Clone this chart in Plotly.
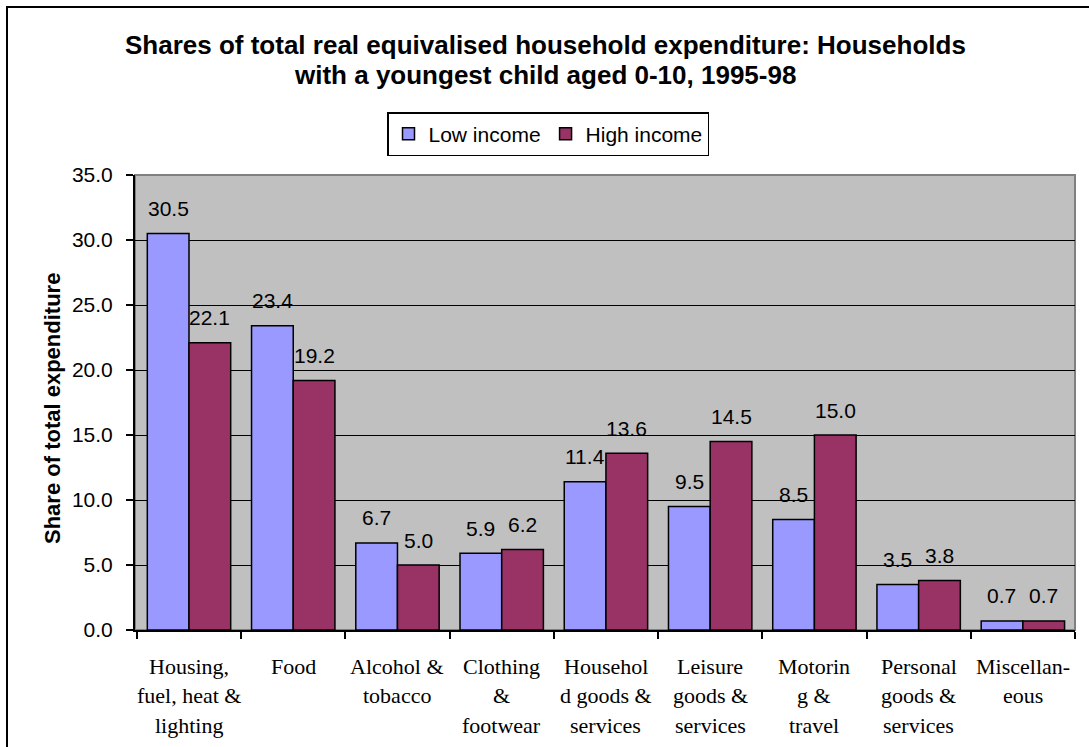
import plotly.graph_objects as go

# Expenditure categories (line breaks as printed under the axis)
categories = [
    "Housing,<br>fuel, heat &<br>lighting",
    "Food",
    "Alcohol &<br>tobacco",
    "Clothing<br>&<br>footwear",
    "Househol<br>d goods &<br>services",
    "Leisure<br>goods &<br>services",
    "Motorin<br>g &<br>travel",
    "Personal<br>goods &<br>services",
    "Miscellan-<br>eous",
]
low_income = [30.5, 23.4, 6.7, 5.9, 11.4, 9.5, 8.5, 3.5, 0.7]
high_income = [22.1, 19.2, 5.0, 6.2, 13.6, 14.5, 15.0, 3.8, 0.7]
y_ticks = [0.0, 5.0, 10.0, 15.0, 20.0, 25.0, 30.0, 35.0]

title_lines = [
    "Shares of total real equivalised household expenditure: Households",
    "with a youngest child aged 0-10, 1995-98",
]

W, H = 1089, 747
L, R, T, B = 135, 14, 175, 117
PW, PH = W - L - R, H - T - B

SANS = "Liberation Sans, Arial, sans-serif"
SERIF = "Liberation Serif, Times New Roman, serif"
LOW_COL = "#9999FF"
HIGH_COL = "#993366"

fig = go.Figure()
fig.add_trace(go.Bar(
    name="Low income", x=categories, y=low_income,
    marker=dict(color=LOW_COL, line=dict(color="black", width=1.5)),
))
fig.add_trace(go.Bar(
    name="High income", x=categories, y=high_income,
    marker=dict(color=HIGH_COL, line=dict(color="black", width=1.5)),
))

annotations = []
bargap = 0.2
half_bar = PW / len(categories) * (1 - bargap) / 4

# value labels above each bar
for cat, lo, hi in zip(categories, low_income, high_income):
    for val, dx in ((lo, -half_bar), (hi, half_bar)):
        annotations.append(dict(
            x=cat, y=val, xref="x", yref="y", text=f"{val:.1f}",
            showarrow=False, xshift=dx, yshift=25, yanchor="middle",
            font=dict(family=SANS, size=21, color="black"),
        ))

# category labels, one annotation per line for Excel-like spacing
for cat in categories:
    for i, line in enumerate(cat.split("<br>")):
        annotations.append(dict(
            x=cat, y=0, xref="x", yref="paper", text=line,
            showarrow=False, yshift=-(36 + 29.5 * i), yanchor="middle",
            font=dict(family=SERIF, size=22, color="black"),
        ))

# chart title
title_cx = (545 - L) / PW
for i, line in enumerate(title_lines):
    annotations.append(dict(
        x=title_cx, y=(H - B - (45 + 30 * i)) / PH, xref="paper", yref="paper",
        text=f"<b>{line}</b>", showarrow=False, yanchor="middle",
        font=dict(family=SANS, size=26, color="black"),
    ))

# y-axis title
annotations.append(dict(
    x=(52 - L) / PW, y=(H - B - 409) / PH, xref="paper", yref="paper",
    xanchor="center", yanchor="middle",
    text="<b>Share of total expenditure</b>", textangle=-90,
    showarrow=False, font=dict(family=SANS, size=22, color="black"),
))

shapes = [
    # grey frame around the plot area
    dict(type="rect", xref="paper", yref="paper", x0=0, x1=1, y0=0, y1=1,
         line=dict(color="#808080", width=2), layer="below"),
    # outer chart frame
    dict(type="rect", xref="paper", yref="paper",
         x0=(7 - L) / PW, x1=(1095 - L) / PW,
         y0=(H - B - 760) / PH, y1=(H - B - 7) / PH,
         line=dict(color="black", width=2)),
]

fig.update_layout(
    width=W, height=H,
    margin=dict(l=L, r=R, t=T, b=B),
    paper_bgcolor="white",
    plot_bgcolor="#C0C0C0",
    barmode="group", bargap=bargap, bargroupgap=0,
    showlegend=True,
    legend=dict(
        orientation="h", x=(548 - L) / PW, xanchor="center",
        y=(H - B - 156) / PH, yanchor="bottom",
        bgcolor="white", bordercolor="black", borderwidth=1.5,
        font=dict(family=SANS, size=21, color="black"),
        itemwidth=30, tracegroupgap=0,
    ),
    annotations=annotations,
    shapes=shapes,
    xaxis=dict(
        type="category", showticklabels=False,
        ticks="outside", tickson="boundaries", ticklen=7,
        tickcolor="black", tickwidth=1.5,
        showline=True, linecolor="black", linewidth=2,
        showgrid=False, zeroline=False,
    ),
    yaxis=dict(
        range=[0, 35], tickvals=y_ticks,
        ticktext=[f"{v:.1f}" for v in y_ticks],
        ticks="outside", ticklen=7, tickcolor="black", tickwidth=1.5,
        ticklabelstandoff=9,
        tickfont=dict(family=SANS, size=21, color="black"),
        showline=True, linecolor="black", linewidth=2,
        showgrid=True, gridcolor="black", gridwidth=1,
        zeroline=False,
    ),
)

fig.write_html("out.html")
